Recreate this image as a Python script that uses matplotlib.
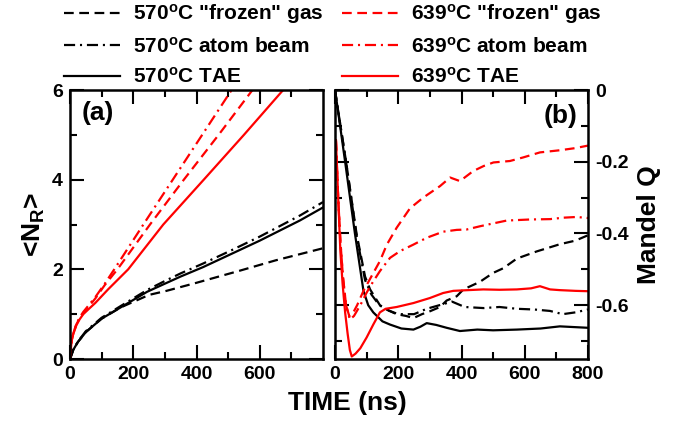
import numpy as np
import matplotlib
matplotlib.use("Agg")
import matplotlib.pyplot as plt

plt.rcParams['font.family'] = ['Liberation Sans', 'DejaVu Sans']
plt.rcParams['font.weight'] = 'bold'
plt.rcParams['axes.labelweight'] = 'bold'
plt.rcParams['mathtext.fontset'] = 'custom'
plt.rcParams['mathtext.rm'] = 'Liberation Sans:bold'
plt.rcParams['mathtext.bf'] = 'Liberation Sans:bold'
plt.rcParams['mathtext.default'] = 'bf'
plt.rcParams['lines.scale_dashes'] = False

# ---- panel (a): <N_R> vs time ----
t_a_red_tae = [0, 5, 10, 20, 30, 42, 60, 80, 120, 184, 295, 423, 550, 674, 800]
n_red_tae = [0, 0.4, 0.55, 0.75, 0.88, 1.0, 1.12, 1.25, 1.55, 2.0, 3.0, 4.0, 5.0, 6.0, 7.0]
t_a_red_gas = [0, 5, 10, 20, 30, 42, 80, 110, 150, 253, 360, 470, 577, 800]
n_red_gas = [0, 0.4, 0.56, 0.77, 0.9, 1.02, 1.35, 1.65, 2.0, 3.0, 4.0, 5.0, 6.0, 8.1]
t_a_red_beam = [0, 5, 10, 20, 30, 42, 80, 110, 140, 232, 325, 418, 511, 800]
n_red_beam = [0, 0.4, 0.56, 0.78, 0.92, 1.05, 1.38, 1.68, 2.0, 3.0, 4.0, 5.0, 6.0, 9.0]

t_a_blk = [0, 10, 25, 50, 100, 160, 244, 300, 350, 421, 506, 600, 727, 800]
n_blk_tae = [0, 0.2, 0.38, 0.6, 0.9, 1.15, 1.5, 1.68, 1.84, 2.05, 2.33, 2.64, 3.09, 3.38]
n_blk_beam = [0, 0.2, 0.39, 0.62, 0.92, 1.18, 1.54, 1.74, 1.91, 2.13, 2.41, 2.73, 3.2, 3.5]
t_a_blk_gas = [0, 10, 25, 50, 100, 160, 250, 305, 400, 537, 650, 800]
n_blk_gas = [0, 0.2, 0.38, 0.6, 0.9, 1.15, 1.43, 1.52, 1.7, 1.97, 2.2, 2.47]

# ---- panel (b): Mandel Q vs time ----
t_b_blk_tae = [0, 5, 32, 63, 90, 105, 121, 150, 174, 210, 248, 270, 290, 320, 353, 395, 450, 500, 575, 650, 711, 800]
q_blk_tae = [0, -0.03, -0.2, -0.4, -0.56, -0.6, -0.62, -0.645, -0.654, -0.665, -0.668, -0.66, -0.65, -0.655,
             -0.663, -0.672, -0.668, -0.67, -0.668, -0.665, -0.659, -0.663]
t_b_blk_gas = [0, 5, 35, 68, 95, 111, 142, 170, 195, 225, 248, 275, 300, 332, 353, 385, 406, 458, 500, 532,
               575, 638, 711, 760, 800]
q_blk_gas = [0, -0.03, -0.2, -0.4, -0.52, -0.556, -0.6, -0.615, -0.625, -0.63, -0.636, -0.625, -0.617, -0.605,
             -0.587, -0.575, -0.556, -0.535, -0.51, -0.497, -0.47, -0.45, -0.43, -0.42, -0.405]
t_b_blk_beam = [0, 5, 35, 67, 95, 115, 140, 170, 200, 250, 290, 330, 370, 410, 470, 520, 575, 630, 680, 720,
                760, 800]
q_blk_beam = [0, -0.03, -0.2, -0.4, -0.53, -0.57, -0.6, -0.615, -0.625, -0.625, -0.61, -0.6, -0.59, -0.605,
              -0.608, -0.605, -0.61, -0.612, -0.616, -0.625, -0.62, -0.612]
t_b_red_tae = [3, 10, 17, 24, 32, 40, 47, 53, 65, 80, 100, 121, 142, 160, 195, 248, 300, 342, 374, 420, 469,
               520, 575, 620, 648, 680, 711, 760, 800]
q_red_tae = [-0.14, -0.3, -0.45, -0.54, -0.62, -0.68, -0.725, -0.743, -0.735, -0.72, -0.69, -0.654, -0.62,
             -0.61, -0.605, -0.594, -0.58, -0.566, -0.56, -0.558, -0.556, -0.557, -0.556, -0.553, -0.547,
             -0.556, -0.558, -0.56, -0.561]
t_b_red_gas = [3, 10, 17, 25, 35, 45, 55, 70, 90, 115, 142, 164, 195, 237, 279, 332, 364, 395, 437, 470, 501,
               553, 595, 648, 711, 760, 800]
q_red_gas = [-0.14, -0.3, -0.42, -0.52, -0.6, -0.63, -0.625, -0.6, -0.56, -0.52, -0.477, -0.431, -0.384,
             -0.33, -0.3, -0.268, -0.244, -0.254, -0.226, -0.212, -0.202, -0.198, -0.188, -0.174, -0.168,
             -0.162, -0.155]
t_b_red_beam = [3, 10, 17, 25, 35, 47, 60, 80, 100, 120, 142, 174, 206, 248, 290, 342, 385, 416, 458, 500,
                543, 617, 680, 722, 764, 800]
q_red_beam = [-0.14, -0.3, -0.42, -0.52, -0.6, -0.64, -0.63, -0.6, -0.565, -0.535, -0.505, -0.468, -0.449,
              -0.431, -0.412, -0.395, -0.39, -0.389, -0.38, -0.372, -0.364, -0.361, -0.36, -0.356, -0.354,
              -0.357]

dash = (0, (7, 4))
dashdot = (0, (8, 3.5, 1.5, 3.5))
lw = 1.6

fig = plt.figure(figsize=(6.89, 4.22), dpi=100)
ax1 = fig.add_axes([70/689, 63/422, 253/689, 269/422])
ax2 = fig.add_axes([335/689, 63/422, 253/689, 269/422])

ax1.plot(t_a_blk_gas, n_blk_gas, color='black', ls=dash, lw=lw, label='570$^{o}$C "frozen" gas')
ax1.plot(t_a_blk, n_blk_beam, color='black', ls=dashdot, lw=lw, label='570$^{o}$C atom beam')
ax1.plot(t_a_blk, n_blk_tae, color='black', ls='-', lw=lw, label='570$^{o}$C TAE')
ax1.plot(t_a_red_gas, n_red_gas, color='red', ls=dash, lw=lw, label='639$^{o}$C "frozen" gas')
ax1.plot(t_a_red_beam, n_red_beam, color='red', ls=dashdot, lw=lw, label='639$^{o}$C atom beam')
ax1.plot(t_a_red_tae, n_red_tae, color='red', ls='-', lw=lw, label='639$^{o}$C TAE')

ax2.plot(t_b_blk_gas, q_blk_gas, color='black', ls=dash, lw=lw)
ax2.plot(t_b_blk_beam, q_blk_beam, color='black', ls=dashdot, lw=lw)
ax2.plot(t_b_blk_tae, q_blk_tae, color='black', ls='-', lw=lw)
ax2.plot(t_b_red_gas, q_red_gas, color='red', ls=dash, lw=lw)
ax2.plot(t_b_red_beam, q_red_beam, color='red', ls=dashdot, lw=lw)
ax2.plot(t_b_red_tae, q_red_tae, color='red', ls='-', lw=lw)

ax1.set_xlim(0, 800)
ax1.set_ylim(0, 6)
ax1.set_xticks([0, 200, 400, 600])
ax1.set_xticks([100, 300, 500, 700], minor=True)
ax1.set_yticks([0, 2, 4, 6])
ax1.set_yticks([1, 3, 5], minor=True)
ax1.set_ylabel('<N$_{R}$>', fontsize=19, labelpad=4)
ax1.text(0.046, 0.913, '(a)', transform=ax1.transAxes, fontsize=19, va='center', ha='left')

ax2.set_xlim(0, 800)
ax2.set_ylim(-0.75, 0)
ax2.set_xticks([0, 200, 400, 600, 800])
ax2.set_xticks([100, 300, 500, 700], minor=True)
ax2.set_yticks([0, -0.2, -0.4, -0.6])
ax2.set_yticklabels(['0', '-0.2', '-0.4', '-0.6'])
ax2.set_yticks([-0.1, -0.3, -0.5, -0.7], minor=True)
ax2.yaxis.set_label_position('right')
ax2.set_ylabel('Mandel Q', fontsize=19, labelpad=6)
ax2.text(0.957, 0.905, '(b)', transform=ax2.transAxes, fontsize=19, va='center', ha='right')

for ax in (ax1, ax2):
    for s in ax.spines.values():
        s.set_linewidth(1.8)
    ax.tick_params(which='both', direction='in', top=True, right=True, left=True, bottom=True,
                   width=1.5, labelsize=14, pad=5)
    ax.tick_params(which='major', length=10)
    ax.tick_params(which='minor', length=5)
ax2.tick_params(axis='y', which='both', labelleft=False, labelright=True)

fig.text(347/689, 1 - 403/422, 'TIME (ns)', fontsize=19, ha='center', va='center')

h, l = ax1.get_legend_handles_labels()
fig.legend(h, l, ncol=2, loc='upper left', bbox_to_anchor=(64/689, 0.995), frameon=False,
           fontsize=15, handlelength=2.7, handletextpad=0.6, columnspacing=0.9,
           labelspacing=0.5, borderpad=0, borderaxespad=0)

fig.savefig('out.png', dpi=100)
